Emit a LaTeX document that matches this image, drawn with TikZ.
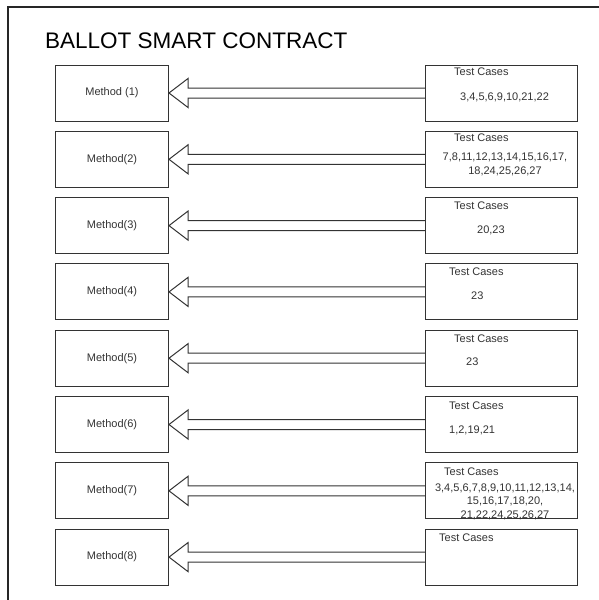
\documentclass[tikz,border=0pt]{standalone}
\usepackage{fontspec}
\setmainfont{Liberation Sans}
\usetikzlibrary{calc}

\tikzset{
  mbox/.style={draw=black!80,line width=1pt,anchor=north west,minimum width=113pt,minimum height=56pt,inner sep=0pt,text=black!80,font=\fontsize{11}{13}\selectfont},
  tbox/.style={draw=black!80,line width=1pt,anchor=north west,minimum width=152pt,minimum height=56pt,inner sep=0pt},
  tc/.style={anchor=west,inner sep=0pt,text=black!80,font=\fontsize{11}{13.5}\selectfont,align=center},
  arr/.style={draw=black!80,line width=1pt,line join=miter}
}
% hollow block arrow from a test box to a method box
\newcommand{\blockarr}[2]{\draw[arr] ($(#1.west)+(0,-5)$) -- ($(#2.east)+(19,-5)$) -- ($(#2.east)+(19,-14.5)$) -- (#2.east) -- ($(#2.east)+(19,14.5)$) -- ($(#2.east)+(19,5)$) -- ($(#1.west)+(0,5)$);}

\begin{document}
\begin{tikzpicture}[x=1pt,y=-1pt]
\useasboundingbox (0,0) rectangle (598,600);
\coordinate (fa) at (8,600);
\coordinate (fb) at (8,7);
\coordinate (fc) at (600,7);
\draw[black!85,line width=1.2pt] (fa) -- (fb) -- (fc);
\node[anchor=west,inner sep=0pt,font=\fontsize{22.5}{25}\selectfont] (title) at (45,40.5) {BALLOT SMART CONTRACT};

\node[mbox] (m1) at (55,64.5) {Method (1)};
\node[mbox] (m2) at (55,130.8) {Method(2)};
\node[mbox] (m3) at (55,197.1) {Method(3)};
\node[mbox] (m4) at (55,263.4) {Method(4)};
\node[mbox] (m5) at (55,329.7) {Method(5)};
\node[mbox] (m6) at (55,396) {Method(6)};
\node[mbox] (m7) at (55,462.3) {Method(7)};
\node[mbox] (m8) at (55,528.6) {Method(8)};

\node[tbox] (t1) at (425,64.5) {};
\node[tbox] (t2) at (425,130.8) {};
\node[tbox] (t3) at (425,197.1) {};
\node[tbox] (t4) at (425,263.4) {};
\node[tbox] (t5) at (425,329.7) {};
\node[tbox] (t6) at (425,396) {};
\node[tbox] (t7) at (425,462.3) {};
\node[tbox] (t8) at (425,528.6) {};

\node[tc] (h1) at (454,72) {Test Cases};
\node[tc] (c1) at (460,97) {3,4,5,6,9,10,21,22};
\node[tc] (h2) at (454,138) {Test Cases};
\node[tc,anchor=center] (c2) at (505,164.5) {7,8,11,12,13,14,15,16,17,\\18,24,25,26,27};
\node[tc] (h3) at (454,206) {Test Cases};
\node[tc] (c3) at (477,230) {20,23};
\node[tc] (h4) at (449,272) {Test Cases};
\node[tc] (c4) at (471,296) {23};
\node[tc] (h5) at (454,339) {Test Cases};
\node[tc] (c5) at (466,362) {23};
\node[tc] (h6) at (449,406) {Test Cases};
\node[tc] (c6) at (449,430) {1,2,19,21};
\node[tc] (h7) at (444,472) {Test Cases};
\node[tc,anchor=center] (c7) at (505,501.5) {3,4,5,6,7,8,9,10,11,12,13,14,\\15,16,17,18,20,\\21,22,24,25,26,27};
\node[tc] (h8) at (439,538) {Test Cases};

\blockarr{t1}{m1}
\blockarr{t2}{m2}
\blockarr{t3}{m3}
\blockarr{t4}{m4}
\blockarr{t5}{m5}
\blockarr{t6}{m6}
\blockarr{t7}{m7}
\blockarr{t8}{m8}
\end{tikzpicture}
\end{document}
